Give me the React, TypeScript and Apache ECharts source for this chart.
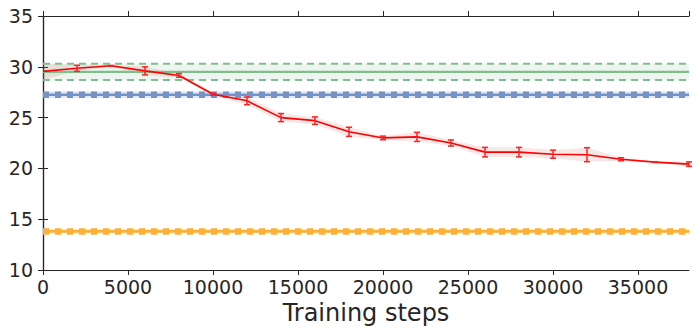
import React, { useEffect, useRef } from "react";
import * as echarts from "echarts";

const steps = [0, 2000, 4000, 6000, 8000, 10000, 12000, 14000, 16000, 18000, 20000, 22000, 24000, 26000, 28000, 30000, 32000, 34000, 36000, 38000];
const modelMean = [29.55, 29.85, 30.1, 29.6, 29.15, 27.3, 26.65, 25.0, 24.7, 23.6, 23.0, 23.1, 22.5, 21.6, 21.6, 21.4, 21.35, 20.9, 20.62, 20.42];
const modelBand = [0.8, 0.3, 0.08, 0.4, 0.2, 0.12, 0.38, 0.4, 0.37, 0.45, 0.2, 0.45, 0.3, 0.47, 0.47, 0.4, 0.69, 0.18, 0.05, 0.25];
const modelErrBar = [0, 0.3, 0.03, 0.4, 0.18, 0.1, 0.38, 0.4, 0.37, 0.45, 0.18, 0.45, 0.3, 0.47, 0.47, 0.4, 0.69, 0.15, 0.04, 0.22];

const xTicks = { min: 0, max: 38000, interval: 5000 };
const yTicks = { min: 10, max: 35, interval: 5 };

const greenMean = 29.5;
const greenLow = 28.7;
const greenHigh = 30.3;
const blueMean = 27.25;
const blueBand = 0.35;
const orangeMean = 13.8;
const orangeBand = 0.28;

const AXIS = "#262626";
const FONT = "DejaVu Sans";

function bandSeries(xs: number[], lo: number[], hi: number[], color: string, z: number) {
  return {
    type: "custom",
    silent: true,
    z,
    data: [[xs[0], lo[0]]],
    renderItem: (_p: any, api: any) => {
      const pts: number[][] = [];
      for (let i = 0; i < xs.length; i++) pts.push(api.coord([xs[i], hi[i]]));
      for (let i = xs.length - 1; i >= 0; i--) pts.push(api.coord([xs[i], lo[i]]));
      return { type: "polygon", shape: { points: pts }, style: { fill: color } };
    },
  };
}

function hline(v: number, color: string, width: number, type: any, z: number) {
  return {
    type: "line",
    data: [[xTicks.min, v], [xTicks.max, v]],
    symbol: "none",
    silent: true,
    z,
    lineStyle: { color, width, type, cap: "butt" },
  };
}

export default function App() {
  const ref = useRef<HTMLDivElement>(null);
  useEffect(() => {
    const chart = echarts.init(ref.current!, null, { renderer: "svg" });
    const ends = [xTicks.min, xTicks.max];
    const axisCommon = {
      axisLine: { show: true, lineStyle: { color: AXIS, width: 1.2 } },
      axisTick: { show: true, length: 5, lineStyle: { color: AXIS, width: 1 } },
      splitLine: { show: false },
    };
    chart.setOption({
      animation: false,
      grid: { left: 43, right: 6, top: 16, bottom: 65, containLabel: false },
      xAxis: [
        {
          type: "value",
          position: "bottom",
          ...xTicks,
          ...axisCommon,
          name: "Training steps",
          nameLocation: "middle",
          nameGap: 31,
          nameTextStyle: { fontSize: 24, color: AXIS, fontFamily: FONT },
          axisLabel: {
            fontSize: 19,
            color: AXIS,
            fontFamily: FONT,
            margin: 7,
            showMaxLabel: false,
            formatter: (v: number) => String(v),
          },
        },
        {
          type: "value",
          position: "top",
          ...xTicks,
          ...axisCommon,
          axisLabel: { show: false },
        },
      ],
      yAxis: [
        {
          type: "value",
          position: "left",
          ...yTicks,
          ...axisCommon,
          axisLabel: { fontSize: 19, color: AXIS, fontFamily: FONT, margin: 10, formatter: (v: number) => String(v) },
        },
        {
          type: "value",
          position: "right",
          ...yTicks,
          ...axisCommon,
          axisLabel: { show: false },
        },
      ],
      series: [
        bandSeries(ends, [greenLow, greenLow], [greenHigh, greenHigh], "rgba(85,168,104,0.11)", 1),
        bandSeries(ends, [blueMean - blueBand, blueMean - blueBand], [blueMean + blueBand, blueMean + blueBand], "rgba(76,114,176,0.15)", 1),
        bandSeries(ends, [orangeMean - orangeBand, orangeMean - orangeBand], [orangeMean + orangeBand, orangeMean + orangeBand], "rgba(255,170,40,0.16)", 1),
        bandSeries(
          steps,
          modelMean.map((m, i) => m - modelBand[i]),
          modelMean.map((m, i) => m + modelBand[i]),
          "rgba(200,70,70,0.13)",
          2
        ),
        hline(greenMean, "#80be8e", 2.2, "solid", 3),
        hline(greenHigh, "#80be8e", 2, [7, 5], 3),
        hline(greenLow, "#80be8e", 2, [7, 5], 3),
        hline(blueMean, "#7593c6", 2.6, "solid", 3),
        hline(blueMean, "#7593c6", 6.5, [6, 6], 3),
        hline(orangeMean, "#fbb03b", 2.6, "solid", 3),
        hline(orangeMean, "#fbb03b", 6.5, [6, 6], 3),
        {
          type: "line",
          data: steps.map((s, i) => [s, modelMean[i]]),
          symbol: "none",
          silent: true,
          z: 5,
          lineStyle: { color: "#ff0000", width: 1.6 },
        },
        {
          type: "custom",
          silent: true,
          z: 6,
          data: steps.map((s, i) => [s, modelMean[i] - modelErrBar[i], modelMean[i] + modelErrBar[i]]),
          encode: { x: 0, y: [1, 2] },
          renderItem: (_p: any, api: any) => {
            const x = api.value(0);
            const lo = api.coord([x, api.value(1)]);
            const hi = api.coord([x, api.value(2)]);
            if (api.value(2) - api.value(1) <= 0) return { type: "group", children: [] };
            const w = 3;
            const st = { stroke: "#ff2020", lineWidth: 1.5 };
            return {
              type: "group",
              children: [
                { type: "line", shape: { x1: lo[0], y1: lo[1], x2: hi[0], y2: hi[1] }, style: st },
                { type: "line", shape: { x1: lo[0] - w, y1: lo[1], x2: lo[0] + w, y2: lo[1] }, style: st },
                { type: "line", shape: { x1: hi[0] - w, y1: hi[1], x2: hi[0] + w, y2: hi[1] }, style: st },
              ],
            };
          },
        },
      ],
    });
    return () => chart.dispose();
  }, []);
  return <div ref={ref} style={{ position: "absolute", left: 0, top: 0, width: 695, height: 335 }} />;
}
